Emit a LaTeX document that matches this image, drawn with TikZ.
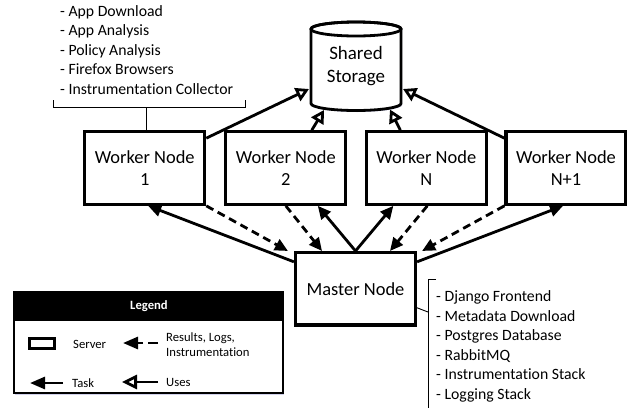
\documentclass[tikz,border=0pt]{standalone}
\usepackage{fontspec}
\setmainfont{Carlito}[Ligatures=NoCommon]
\usetikzlibrary{arrows.meta,calc,shadows}
\begin{document}
\begin{tikzpicture}[x=1bp,y=-1bp,
  server/.style={draw, line width=3.2bp, fill=white, minimum width=120bp, minimum height=72.5bp,
    align=center, inner sep=0pt, font=\fontsize{18.5}{22}\selectfont,
    drop shadow={shadow xshift=1.2bp, shadow yshift=-1.5bp, fill=blue!40!gray, opacity=0.25}},
  task/.style={line width=2.8bp, -{Triangle[length=13bp,width=12bp]}},
  result/.style={task, dash pattern=on 8bp off 5bp},
  uses/.style={line width=2.8bp, -{Triangle[open,length=13bp,width=14bp,fill=white]}},
  thinline/.style={line width=0.9bp},
  listitem/.style={anchor=base west, inner sep=0pt, font=\fontsize{15.8}{19.5}\selectfont},
  legtext/.style={anchor=base west, inner sep=0pt, font=\fontsize{12.7}{15}\selectfont},
]
\useasboundingbox (0,0) rectangle (627,407);

% shared storage cylinder
\path[draw, line width=2.8bp, fill=white,
  drop shadow={shadow xshift=1.2bp, shadow yshift=-1.5bp, fill=blue!40!gray, opacity=0.25}]
  (311,29) -- (311,103.5) arc[start angle=180, end angle=0, x radius=45, y radius=7]
  -- (401,29) arc[start angle=0, end angle=-180, x radius=45, y radius=7] -- cycle;
\draw[line width=2.8bp] (356,29) ellipse[x radius=45, y radius=7];
\node[align=center, inner sep=0pt, font=\fontsize{19}{23}\selectfont] (storage) at (356,66) {Shared\\Storage};
\coordinate (sL) at ($(storage.center)+(-47,23)$);
\coordinate (sB1) at ($(storage.center)+(-32,44)$);
\coordinate (sB2) at ($(storage.center)+(34,43.5)$);
\coordinate (sR) at ($(storage.center)+(47,23)$);

% servers
\node[server] (w1) at (144.7,168) {Worker Node\\1};
\node[server] (w2) at (285.8,168) {Worker Node\\2};
\node[server] (wn) at (426.3,168) {Worker Node\\N};
\node[server] (wn1) at (566,168) {Worker Node\\N+1};
\node[server] (m) at (355.5,288.8) {Master Node};

% uses arrows
\draw[uses] ($(w1.north east)+(0,8)$) -- (sL);
\draw[uses] ($(w2.north)+(26,0)$) -- (sB1);
\draw[uses] ($(wn.north)+(-26,0)$) -- (sB2);
\draw[uses] ($(wn1.north west)+(0,8)$) -- (sR);

% task arrows
\draw[task] ($(m.west)+(0,-27)$) -- ($(w1.south)+(3.5,0)$);
\draw[task] (m.north) -- ($(w2.south)+(32,0)$);
\draw[task] (m.north) -- ($(wn.south)+(-33,0)$);
\draw[task] ($(m.east)+(0,-27)$) -- ($(wn1.south)+(-3,0)$);

% result arrows
\draw[result] (w1.south east) -- ($(m.north west)+(-6,0)$);
\draw[result] (w2.south) -- ($(m.north)+(-33.5,0)$);
\draw[result] ($(wn.south)+(1,0)$) -- ($(m.north)+(34.5,0)$);
\draw[result] (wn1.south west) -- ($(m.north east)+(5,0)$);

% worker list
\foreach \t [count=\i] in {- App Download, - App Analysis, - Policy Analysis, - Firefox Browsers, - Instrumentation Collector}
  \node[listitem] (wl\i) at (60,{16+19.5*(\i-1)}) {\t};
\coordinate (tb) at (146,107);
\draw[thinline] (53,100) -- (53,107) -- (245,107) -- (245,100);
\draw[thinline] (tb) -- (w1.north -| tb);

% master list
\foreach \t [count=\i] in {- Django Frontend, - Metadata Download, - Postgres Database, - RabbitMQ, - Instrumentation Stack, - Logging Stack}
  \node[listitem] (ml\i) at (436,{301.5+19.5*(\i-1)}) {\t};
\coordinate (mb) at (428,312);
\draw[thinline] (436,279) -- (428,279) -- (428,409);
\draw[thinline] ($(m.east)+(0,19)$) -- (mb);

% legend
\fill[white, drop shadow={shadow xshift=1.2bp, shadow yshift=-1.5bp, fill=blue!40!gray, opacity=0.25}] (14,292) rectangle (283,393);
\fill[black] (14,292) rectangle (283,321);
\draw[line width=1.2bp] (14,292) rectangle (283,393);
\node[text=white, inner sep=0pt, font=\fontsize{12.7}{15}\selectfont\bfseries] (legend) at (149,306.5) {Legend};
\node[draw, line width=3bp, minimum width=25bp, minimum height=10bp, inner sep=0pt] (icon) at (41.5,343) {};
\node[legtext] (lserver) at (73,348) {Server};
\coordinate (l1s) at (158,343); \coordinate (l1e) at (123,343);
\draw[line width=2.8bp, dash pattern=on 10bp off 5bp, -{Triangle[length=15bp,width=12bp]}] (l1s) -- (l1e);
\node[legtext] (lres) at (166,341.5) {Results, Logs,};
\node[legtext] (lins) at (166,356.5) {Instrumentation};
\coordinate (l2s) at (63,383); \coordinate (l2e) at (30,383);
\draw[line width=2.8bp, -{Triangle[length=15bp,width=12bp]}] (l2s) -- (l2e);
\node[legtext] (ltask) at (72,387.5) {Task};
\coordinate (l3s) at (158,382); \coordinate (l3e) at (122,382);
\draw[line width=2.8bp, -{Triangle[open,length=15bp,width=14bp,fill=white]}] (l3s) -- (l3e);
\node[legtext] (luses) at (166,386.5) {Uses};
\end{tikzpicture}
\end{document}
